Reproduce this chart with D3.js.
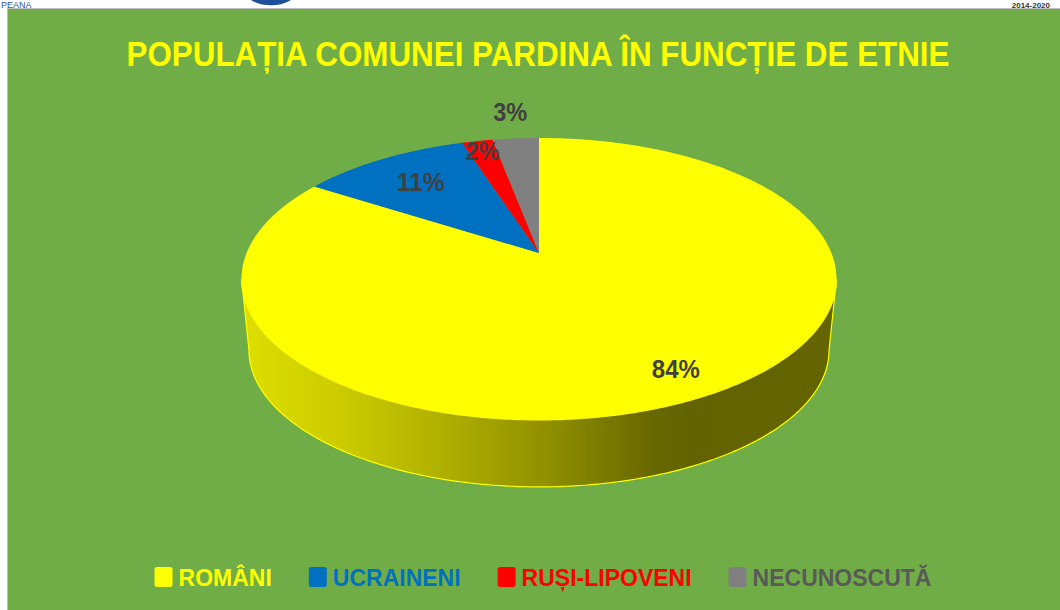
<!DOCTYPE html>
<html>
<head>
<meta charset="utf-8">
<script src="https://cdn.jsdelivr.net/npm/d3@7"></script>
<style>
  html, body { margin: 0; padding: 0; background: #fff; }
  svg { display: block; font-family: "Liberation Sans", Arial, sans-serif; }
</style>
</head>
<body>
<div id="chart"></div>
<script>
// data
const ethnicGroups = ['ROMÂNI', 'UCRAINENI', 'RUȘI-LIPOVENI', 'NECUNOSCUTĂ'];
const sharePercent = [84, 11, 2, 3];
const sliceColors = ['#FFFF00', '#0070C0', '#FF0000', '#808080'];
const legendTextColors = ['#FFFF00', '#0070C0', '#FF0000', '#595959'];
const chartTitle = 'POPULAȚIA COMUNEI PARDINA ÎN FUNCȚIE DE ETNIE';

const width = 1060, height = 610;

const svg = d3.select('#chart').append('svg')
  .attr('width', width)
  .attr('height', height);

// header strip (slide leftovers above the chart)
svg.append('rect').attr('x', 0).attr('y', 0).attr('width', width).attr('height', 9).attr('fill', '#fff');
svg.append('text').attr('x', 1).attr('y', 8).attr('font-size', 9).attr('fill', '#2F5597').text('PEANA');
svg.append('ellipse').attr('cx', 271).attr('cy', -14).attr('rx', 30).attr('ry', 20)
  .attr('fill', '#1F4E9A').attr('stroke', '#fff').attr('stroke-width', 1.5);
svg.append('text').attr('x', 1050).attr('y', 8).attr('text-anchor', 'end')
  .attr('font-size', 8).attr('font-weight', 'bold')
  .attr('fill', '#333').text('2014-2020');

// green chart area
svg.append('rect')
  .attr('x', 7.5).attr('y', 8.5)
  .attr('width', width - 7).attr('height', height - 8)
  .attr('fill', '#70AD47')
  .attr('stroke', '#BFBFBF');

svg.append('text')
  .attr('x', 538).attr('y', 66)
  .attr('text-anchor', 'middle')
  .attr('font-size', 35).attr('font-weight', 'bold')
  .attr('fill', '#FFFF00')
  .attr('textLength', 823).attr('lengthAdjust', 'spacingAndGlyphs')
  .text(chartTitle);

// 3D pie: a perspective view of a disk (homography keeps radial edges straight)
const pie3d = { cx: 539, cy: 253, a: 292.4, b: 136.2, k: 0.184, depth: 72, bottomScaleX: 0.975, bottomScaleY: 0.97 };

function project(r, theta, bottom) {
  const u = r * Math.sin(theta), v = -r * Math.cos(theta);
  const sx = bottom ? pie3d.bottomScaleX : 1, sy = bottom ? pie3d.bottomScaleY : 1;
  const d = 1 - pie3d.k * v;
  return [pie3d.cx + pie3d.a * sx * u / d,
          pie3d.cy + (bottom ? pie3d.depth : 0) + pie3d.b * sy * v / d];
}

function arcPoints(a0, a1, bottom) {
  const n = Math.max(2, Math.ceil((a1 - a0) / 0.01));
  return d3.range(n + 1).map(i => project(1, a0 + (a1 - a0) * i / n, bottom));
}

const color = d3.scaleOrdinal().domain(ethnicGroups).range(sliceColors);
const slices = d3.pie().sort(null).value(d => d.value)
  .startAngle(0).endAngle(2 * Math.PI)(ethnicGroups.map((g, i) => ({ group: g, value: sharePercent[i] })));

const line = d3.line();

// visible front wall lies between the two silhouette tangent points
const frontStart = Math.acos(-pie3d.k);
const frontEnd = 2 * Math.PI - frontStart;

const wallGrad = svg.append('defs').append('linearGradient')
  .attr('id', 'wall').attr('gradientUnits', 'userSpaceOnUse')
  .attr('x1', 245).attr('x2', 835).attr('y1', 0).attr('y2', 0);
// the light/dark ramp runs from the left edge to the right edge
[[0, 1.0], [0.16, 0.92], [0.35, 0.78], [0.52, 0.64], [0.69, 0.47], [0.76, 0.44], [1, 0.45]]
  .forEach(([o, f]) => wallGrad.append('stop').attr('offset', o)
    .attr('stop-color', d3.rgb(222 * f, 222 * f, 0)));

const walls = slices.map(s => {
  const a0 = Math.max(s.startAngle, frontStart), a1 = Math.min(s.endAngle, frontEnd);
  return a1 > a0 ? { s, a0, a1 } : null;
}).filter(Boolean);

svg.append('g').selectAll('path')
  .data(walls)
  .join('path')
  .attr('d', w => line(arcPoints(w.a0, w.a1, false).concat(arcPoints(w.a0, w.a1, true).reverse())) + 'Z')
  .attr('fill', w => w.s.index === 0 ? 'url(#wall)' : d3.color(color(w.s.data.group)).darker(1))
  .attr('stroke', w => color(w.s.data.group))
  .attr('stroke-width', 1.2);

svg.append('g').selectAll('path')
  .data(slices)
  .join('path')
  .attr('d', s => line([project(0, 0, false)].concat(arcPoints(s.startAngle, s.endAngle, false))) + 'Z')
  .attr('fill', s => color(s.data.group));

// data labels, Excel-like placement along each slice's middle ray
const labelRadius = [0.84, 0.73, 0.9, 1.29];
svg.append('g').selectAll('text')
  .data(slices)
  .join('text')
  .attr('x', s => project(labelRadius[s.index], (s.startAngle + s.endAngle) / 2, false)[0])
  .attr('y', s => project(labelRadius[s.index], (s.startAngle + s.endAngle) / 2, false)[1])
  .attr('dy', '0.36em')
  .attr('text-anchor', 'middle')
  .attr('font-size', 26).attr('font-weight', 'bold')
  .attr('fill', '#404040')
  .attr('textLength', s => s.data.value >= 10 ? 48 : 34)
  .attr('lengthAdjust', 'spacingAndGlyphs')
  .text(s => s.data.value + '%');

// legend
const legend = svg.append('g');
const items = legend.selectAll('g')
  .data(ethnicGroups)
  .join('g');
items.append('rect')
  .attr('y', 567).attr('width', 18).attr('height', 20).attr('rx', 2.5)
  .attr('fill', d => color(d));
items.append('text')
  .attr('x', 24).attr('y', 586)
  .attr('font-size', 23).attr('font-weight', 'bold')
  .attr('fill', (d, i) => legendTextColors[i])
  .text(d => d);

let xPos = 0;
const gap = 37;
items.each(function() {
  const w = 24 + d3.select(this).select('text').node().getComputedTextLength();
  d3.select(this).attr('transform', `translate(${xPos},0)`);
  xPos += w + gap;
});
const legendWidth = xPos - gap;
legend.attr('transform', `translate(${543 - legendWidth / 2},0)`);
</script>
</body>
</html>
